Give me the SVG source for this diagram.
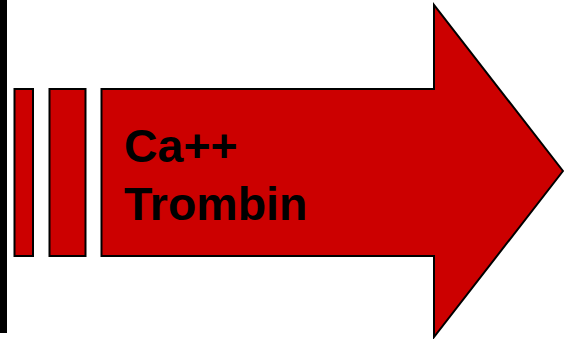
<svg xmlns="http://www.w3.org/2000/svg" width="564" height="339" viewBox="0 0 564 339">
<style>
.r{fill:#cc0000;stroke:#000;stroke-width:2}
.t{font-family:"Liberation Sans",Arial,sans-serif;font-weight:bold;font-size:46.5px;fill:#000}
</style>
<rect x="0" y="0" width="564" height="339" fill="#fff"/>
<rect id="bar" x="0" y="0" width="7" height="333" fill="#000"/>
<g id="stripe1"><rect class="r" x="14.5" y="89" width="18.5" height="167"/></g>
<g id="stripe2"><rect class="r" x="49.5" y="89" width="36" height="167"/></g>
<g id="arrow">
<polygon class="r" points="101.5,89 434,89 434,5 563,171 434,337 434,256 101.5,256"/>
<text class="t" x="124" y="162">Ca++</text>
<text class="t" x="124" y="220">Trombin</text>
</g>
<g id="connectors"/>
</svg>
